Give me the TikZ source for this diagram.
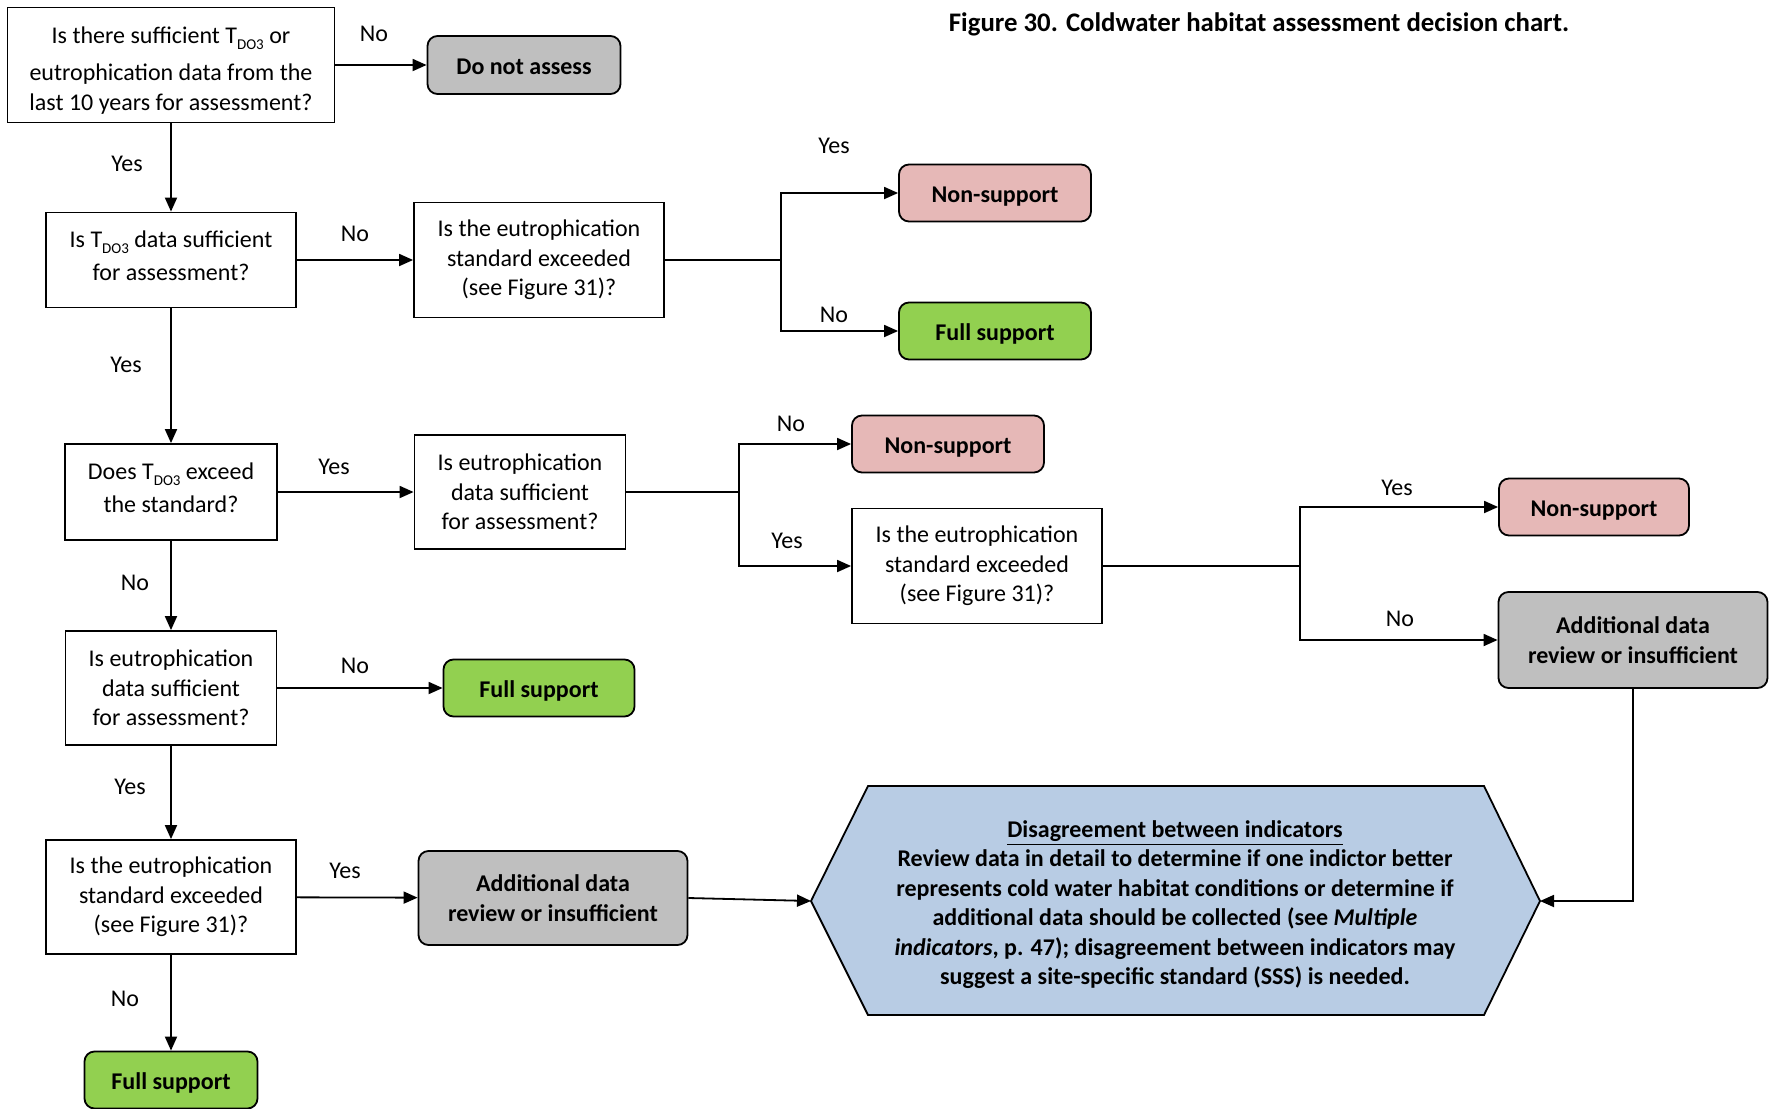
\documentclass[tikz,border=0pt]{standalone}
\usepackage{fontspec}
\setmainfont{Carlito}
\usetikzlibrary{arrows.meta}
\definecolor{nsup}{HTML}{E6B8B7}
\definecolor{fsup}{HTML}{92D050}
\definecolor{gbox}{HTML}{BFBFBF}
\definecolor{hexc}{HTML}{B8CCE4}
\newcommand{\Tdo}{T\raisebox{-0.55ex}{\fontsize{7.5}{8}\selectfont DO3}}
\begin{document}
\begin{tikzpicture}[x=0.5pt,y=-0.5pt,
  font=\fontsize{12}{14.75}\selectfont,
  sz/.style 2 args={minimum width=#1*0.5pt, minimum height=#2*0.5pt},
  qbox/.style={draw, line width=0.9pt, fill=white, align=center, inner sep=0pt},
  rbox/.style={draw, line width=0.9pt, rounded corners=5pt, align=center, inner sep=0pt, font=\fontsize{12}{14.75}\selectfont\bfseries},
  one/.style={text height=10pt, text depth=0.7pt},
  ns/.style={rbox, one, fill=nsup},
  fs/.style={rbox, one, fill=fsup},
  gb/.style={rbox, fill=gbox},
  lbl/.style={inner sep=0pt},
  arr/.style={line width=0.9pt, -{Triangle[length=7pt,width=6pt]}},
  ln/.style={line width=0.9pt}]
\useasboundingbox (0,0) rectangle (1779,1109);

\node[lbl, font=\fontsize{13.4}{16}\selectfont\bfseries] (title) at (1259,24) {Figure 30. Coldwater habitat assessment decision chart.};

% question boxes
\node[qbox, sz={327}{115}] (A) at (171,65) {\rule{0pt}{13.5pt}Is there sufficient \Tdo{} or\\[4pt]eutrophication data from the\\last 10 years for assessment?};
\node[qbox, sz={250}{95}] (B) at (171,260) {Is \Tdo{} data sufficient\\[2pt]for assessment?\rule[-4.5pt]{0pt}{4.5pt}};
\node[qbox, sz={250}{115}] (C) at (539,260) {Is the eutrophication\\standard exceeded\\(see Figure 31)?};
\node[qbox, sz={212}{96}] (D) at (171,492) {Does \Tdo{} exceed\\[2pt]the standard?\rule[-4.5pt]{0pt}{4.5pt}};
\node[qbox, sz={211}{114}] (E) at (520,492) {Is eutrophication\\data sufficient\\for assessment?};
\node[qbox, sz={250}{115}] (F) at (977,566) {Is the eutrophication\\standard exceeded\\(see Figure 31)?};
\node[qbox, sz={211}{114}] (G) at (171,688) {Is eutrophication\\data sufficient\\for assessment?};
\node[qbox, sz={250}{114}] (H) at (171,897) {Is the eutrophication\\standard exceeded\\(see Figure 31)?};

% outcome boxes
\node[gb, one, sz={193}{58}] (DNA) at (524,65) {Do not assess};
\node[ns, sz={192}{57}] (NS1) at (995,193) {Non-support};
\node[fs, sz={192}{57}] (FS1) at (995,331) {Full support};
\node[ns, sz={192}{57}] (NS2) at (948,444) {Non-support};
\node[ns, sz={190}{57}] (NS3) at (1594,507) {Non-support};
\node[gb, sz={269}{96}] (AD2) at (1633,640) {Additional data\\review or insufficient};
\node[fs, sz={191}{57}] (FS2) at (539,688) {Full support};
\node[gb, sz={269}{94}] (AD1) at (553,898) {Additional data\\review or insufficient};
\node[fs, sz={173}{57}] (FS3) at (171,1080) {Full support};

% hexagon
\coordinate (hexW) at (811,901);
\coordinate (hexE) at (1540,901);
\draw[line width=0.9pt, fill=hexc] (hexW) -- (868,786) -- (1484,786) -- (hexE) -- (1484,1015) -- (868,1015) -- cycle;
\node[lbl, align=center, font=\fontsize{12}{14.75}\selectfont\bfseries] (hex) at (1175,904.5)
 {\underline{Disagreement between indicators}\\
  Review data in detail to determine if one indictor better\\
  represents cold water habitat conditions or determine if\\
  additional data should be collected (see \textit{Multiple}\\
  \textit{indicators}, p. 47); disagreement between indicators may\\
  suggest a site-specific standard (SSS) is needed.};

% junction coordinates
\coordinate (j1) at (781,260);
\coordinate (j2) at (739,492);
\coordinate (j3) at (1300,566);

% connectors
\draw[arr] (A) -- (DNA);
\draw[arr] (A) -- (B);
\draw[arr] (B) -- (C);
\draw[ln] (C) -- (j1);
\draw[arr] (j1) |- (NS1);
\draw[arr] (j1) |- (FS1);
\draw[arr] (B) -- (D);
\draw[arr] (D) -- (E);
\draw[ln] (E) -- (j2);
\draw[arr] (j2) |- (NS2);
\draw[arr] (j2) |- (F);
\draw[ln] (F) -- (j3);
\draw[arr] (j3) |- (NS3);
\draw[arr] (j3) |- (AD2);
\draw[arr] (AD2) |- (hexE);
\draw[arr] (D) -- (G);
\draw[arr] (G) -- (FS2);
\draw[arr] (G) -- (H);
\draw[arr] (H) -- (AD1);
\draw[arr] (AD1.east) -- (hexW);
\draw[arr] (H) -- (FS3);

% labels
\node[lbl] (l1) at (374,34) {No};
\node[lbl] (l2) at (127,164) {Yes};
\node[lbl] (l3) at (355,234) {No};
\node[lbl] (l4) at (834,146) {Yes};
\node[lbl] (l5) at (834,315) {No};
\node[lbl] (l6) at (126,365) {Yes};
\node[lbl] (l7) at (334,467) {Yes};
\node[lbl] (l8) at (791,424) {No};
\node[lbl] (l9) at (787,541) {Yes};
\node[lbl] (l10) at (1397,488) {Yes};
\node[lbl] (l11) at (1400,619) {No};
\node[lbl] (l12) at (135,583) {No};
\node[lbl] (l13) at (355,666) {No};
\node[lbl] (l14) at (130,787) {Yes};
\node[lbl] (l15) at (345,871) {Yes};
\node[lbl] (l16) at (125,999) {No};
\end{tikzpicture}
\end{document}
